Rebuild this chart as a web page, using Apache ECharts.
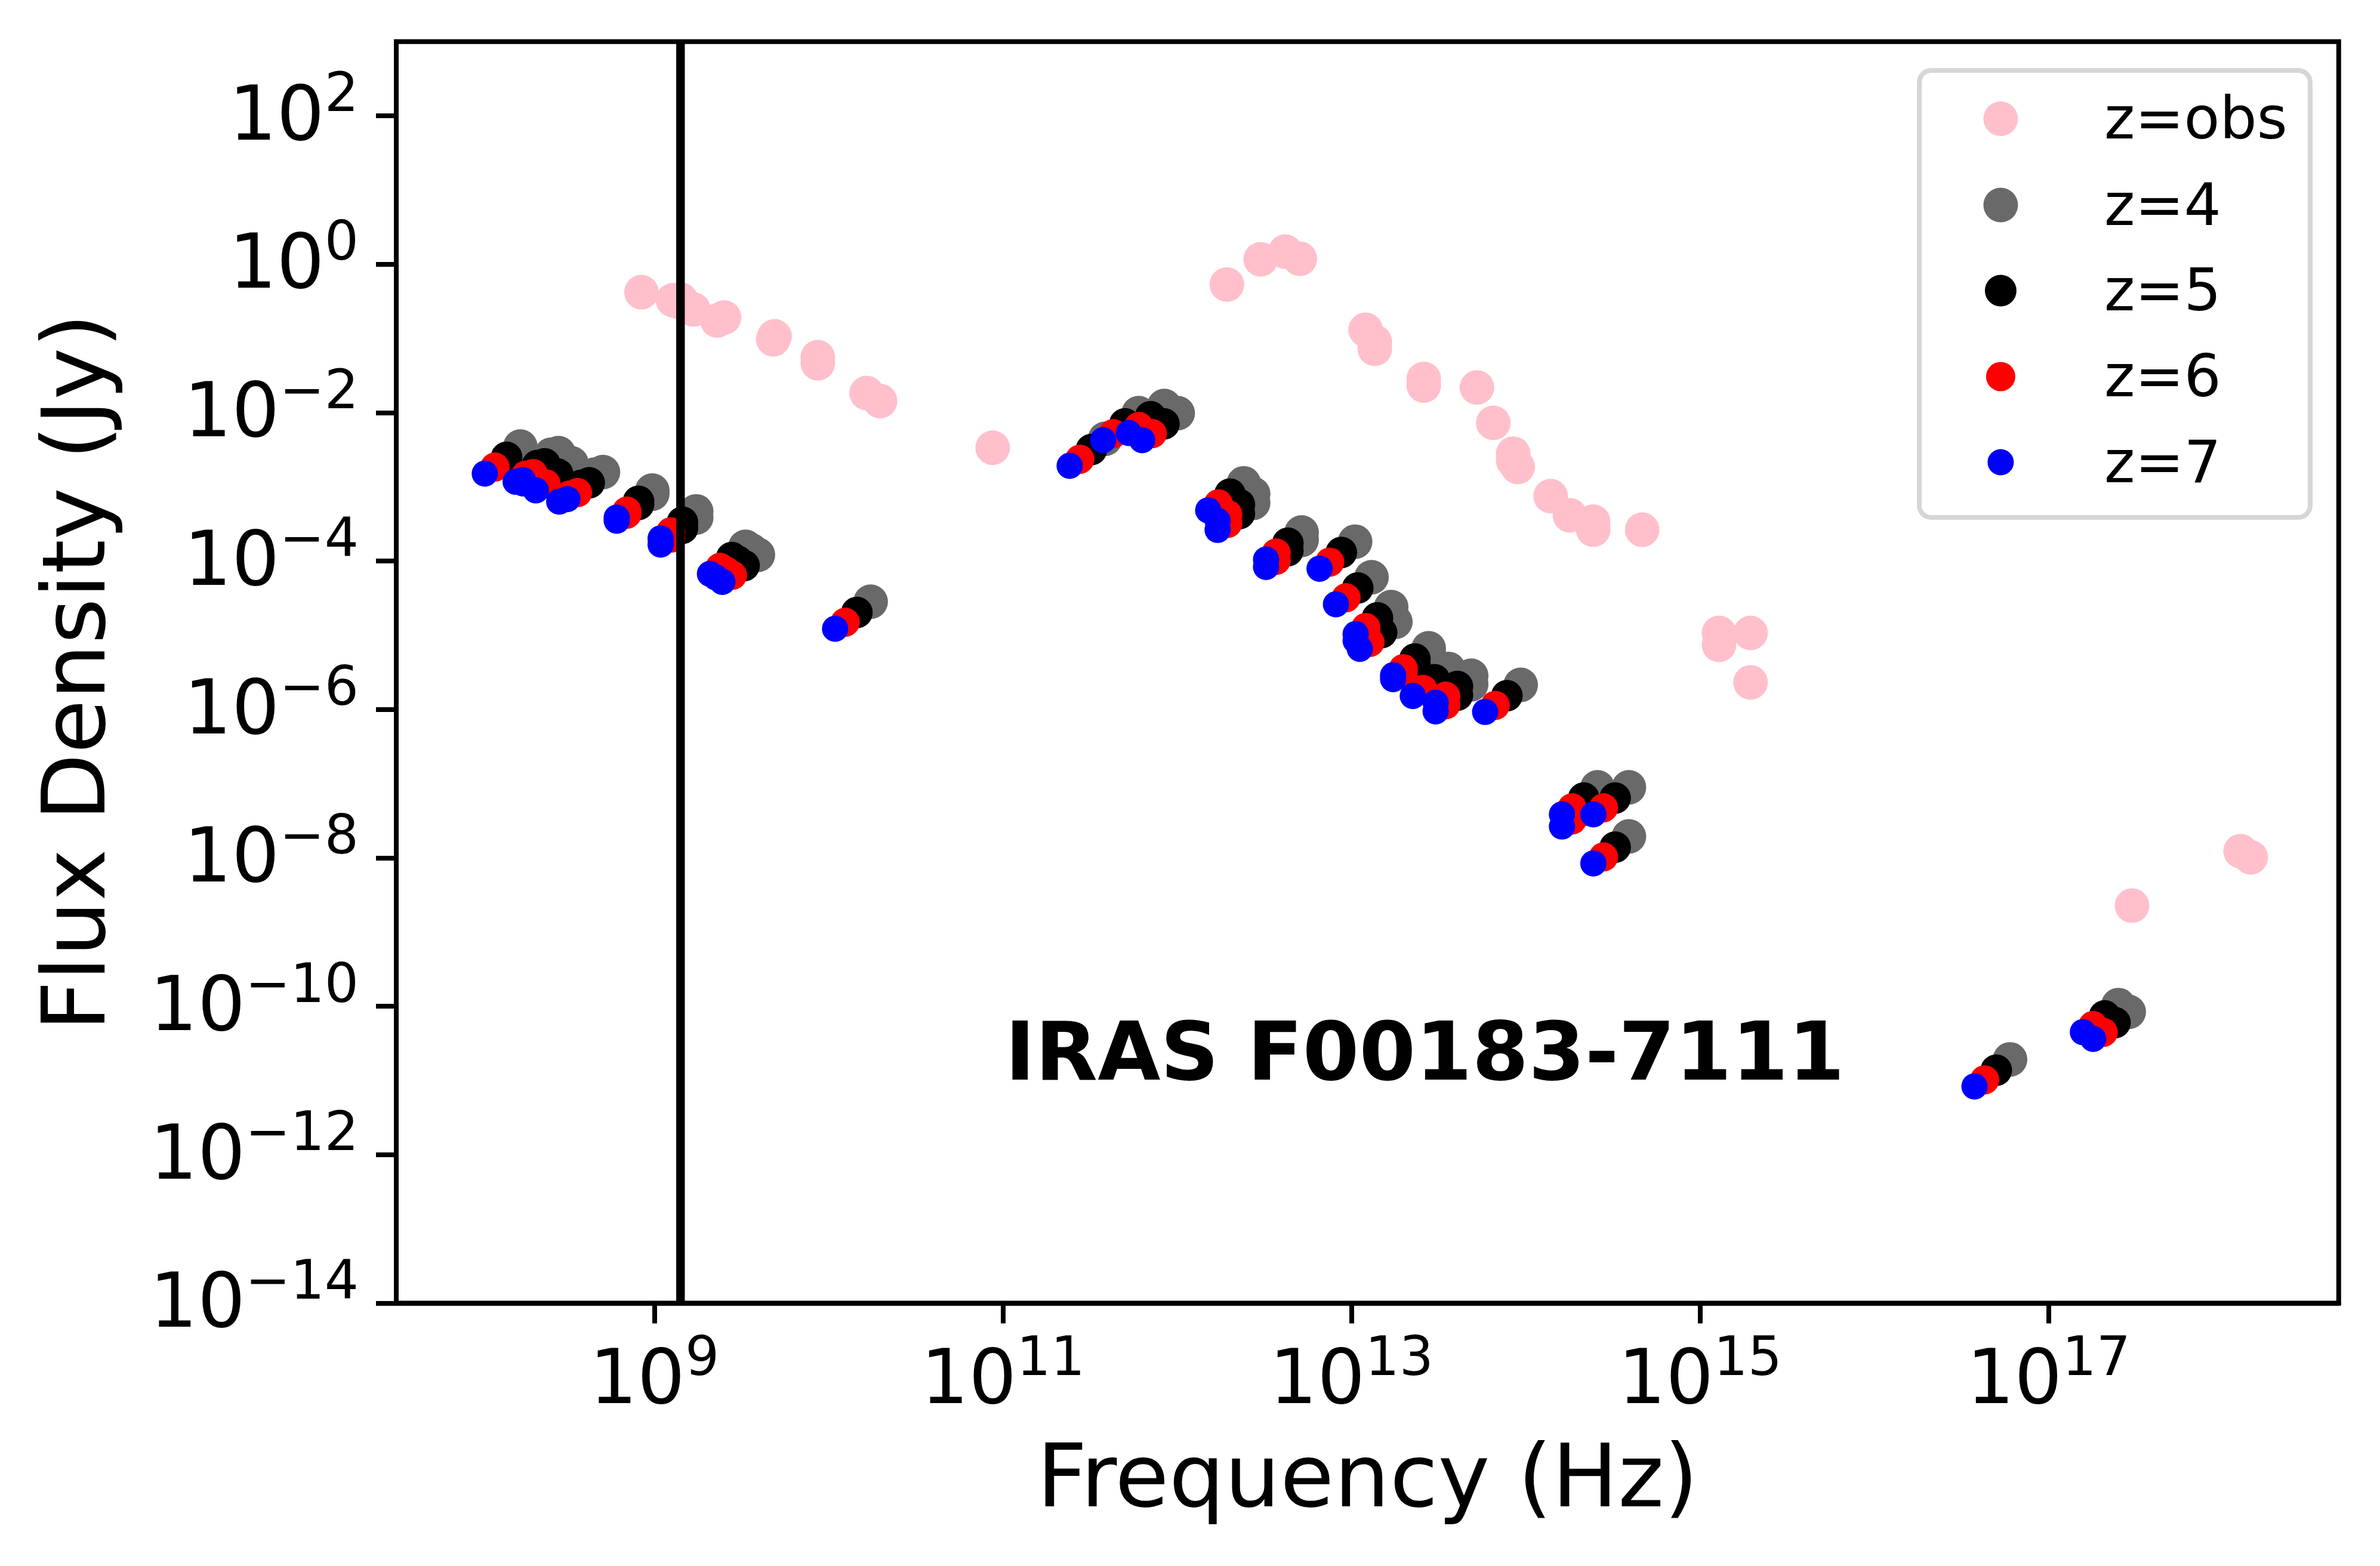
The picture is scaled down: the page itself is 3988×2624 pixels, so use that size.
<!DOCTYPE html>
<html>
<head>
<meta charset="utf-8">
<style>
html, body { margin: 0; padding: 0; background: #fff; }
#container { width: 3988px; height: 2624px; }
</style>
<script src="https://cdn.jsdelivr.net/npm/echarts@6/dist/echarts.min.js"></script>
</head>
<body>
<div id="container"></div>
<script>
// all values are log10(Hz) and log10(Jy)
var obsNu = [8.926,9.107,9.151,9.151,9.224,9.361,9.400,9.690,9.682,9.938,9.938,10.218,10.295,10.941,12.285,12.479,12.621,12.704,13.081,13.134,13.134,13.415,13.415,13.720,13.814,13.928,13.928,13.954,14.143,14.254,14.387,14.387,14.668,15.109,15.109,15.290,15.290,17.479,18.102,18.160];
var obsF = [-0.377,-0.485,-0.477,-0.517,-0.610,-0.758,-0.718,-0.971,-1.011,-1.253,-1.334,-1.735,-1.843,-2.473,-0.273,0.066,0.170,0.074,-0.883,-1.047,-1.140,-1.546,-1.634,-1.661,-2.138,-2.553,-2.647,-2.732,-3.125,-3.384,-3.468,-3.577,-3.578,-4.968,-5.129,-4.968,-5.635,-8.643,-7.909,-7.992];

var z4Nu = [8.231,8.408,8.450,8.450,8.524,8.658,8.705,8.988,8.988,9.240,9.240,9.523,9.556,9.594,10.241,11.587,11.779,11.926,12.003,12.382,12.436,12.436,12.714,12.714,13.021,13.115,13.228,13.228,13.252,13.443,13.443,13.556,13.687,13.687,13.971,14.412,14.412,14.592,14.592,16.779,17.401,17.460];
var z4F = [-2.457,-2.567,-2.545,-2.590,-2.683,-2.835,-2.801,-3.050,-3.092,-3.331,-3.414,-3.808,-3.856,-3.916,-4.548,-2.352,-2.007,-1.910,-2.007,-2.953,-3.095,-3.216,-3.615,-3.715,-3.739,-4.218,-4.620,-4.709,-4.819,-5.175,-5.227,-5.454,-5.545,-5.661,-5.669,-7.049,-7.213,-7.049,-7.711,-10.716,-9.984,-10.075];

var z5Nu = [8.152,8.329,8.371,8.371,8.445,8.579,8.626,8.909,8.909,9.161,9.161,9.444,9.477,9.515,10.162,11.508,11.700,11.847,11.924,12.303,12.357,12.357,12.635,12.635,12.942,13.036,13.149,13.149,13.173,13.364,13.364,13.477,13.608,13.608,13.892,14.333,14.333,14.513,14.513,16.700,17.322,17.381];
var z5F = [-2.602,-2.712,-2.690,-2.735,-2.828,-2.980,-2.946,-3.195,-3.237,-3.476,-3.559,-3.953,-4.001,-4.061,-4.693,-2.497,-2.152,-2.055,-2.152,-3.098,-3.240,-3.361,-3.760,-3.860,-3.884,-4.363,-4.765,-4.854,-4.964,-5.320,-5.372,-5.599,-5.690,-5.806,-5.814,-7.194,-7.358,-7.194,-7.856,-10.861,-10.129,-10.220];

var z6Nu = [8.085,8.262,8.304,8.304,8.378,8.512,8.559,8.842,8.842,9.094,9.094,9.377,9.410,9.448,10.095,11.441,11.633,11.780,11.857,12.236,12.290,12.290,12.568,12.568,12.875,12.969,13.082,13.082,13.106,13.297,13.297,13.410,13.541,13.541,13.825,14.266,14.266,14.446,14.446,16.633,17.255,17.314];
var z6F = [-2.733,-2.843,-2.821,-2.866,-2.959,-3.111,-3.077,-3.326,-3.368,-3.607,-3.690,-4.084,-4.132,-4.192,-4.824,-2.628,-2.283,-2.186,-2.283,-3.229,-3.371,-3.492,-3.891,-3.991,-4.015,-4.494,-4.896,-4.985,-5.095,-5.451,-5.503,-5.730,-5.821,-5.937,-5.945,-7.325,-7.489,-7.325,-7.987,-10.992,-10.260,-10.351];

var z7Nu = [8.027,8.204,8.246,8.246,8.320,8.454,8.501,8.784,8.784,9.036,9.036,9.319,9.352,9.390,10.037,11.383,11.575,11.722,11.799,12.178,12.232,12.232,12.510,12.510,12.817,12.911,13.024,13.024,13.048,13.239,13.239,13.352,13.483,13.483,13.767,14.208,14.208,14.388,14.388,16.575,17.197,17.256];
var z7F = [-2.821,-2.931,-2.909,-2.954,-3.047,-3.199,-3.165,-3.414,-3.456,-3.695,-3.778,-4.172,-4.220,-4.280,-4.912,-2.716,-2.371,-2.274,-2.371,-3.317,-3.459,-3.580,-3.979,-4.079,-4.103,-4.582,-4.984,-5.073,-5.183,-5.539,-5.591,-5.818,-5.909,-6.025,-6.033,-7.413,-7.577,-7.413,-8.075,-11.080,-10.348,-10.439];

var lineNu = 9.15;
var xTicks = [9, 11, 13, 15, 17];
var yTicks = [-14, -12, -10, -8, -6, -4, -2, 0, 2];
var xRange = [7.519, 18.665];
var yRange = [-14, 3];

var font = 'DejaVu Sans';

function pairs(xs, ys) {
    var out = [];
    for (var i = 0; i < xs.length; i++) {
        out.push([Math.pow(10, xs[i]), Math.pow(10, ys[i])]);
    }
    return out;
}

function powers(list) {
    return list.map(function (e) { return Math.pow(10, e); });
}

function tickLabel(val) {
    var e = Math.round(Math.log(val) / Math.LN10);
    return '{b|10}{s|' + String(e).replace('-', '\u2212') + '}';
}

var richLabel = {
    b: { fontFamily: font, fontSize: 126, color: '#000', lineHeight: 146, verticalAlign: 'bottom' },
    s: { fontFamily: font, fontSize: 90, color: '#000', lineHeight: 146, verticalAlign: 'top' }
};

function scatter(name, xs, ys, color, size) {
    return {
        name: name,
        type: 'scatter',
        data: pairs(xs, ys),
        symbol: 'circle',
        symbolSize: size,
        itemStyle: { color: color, opacity: 1 },
        silent: true
    };
}

// one legend per marker, the reference has a different dot size on each row
function legendRow(name, size, cy) {
    return {
        data: [{ name: name, icon: 'circle' }],
        left: 3352.4 - size / 2,
        top: cy - 56,
        padding: 0,
        itemWidth: size,
        itemHeight: size,
        selectedMode: false,
        formatter: '{t|{name}}',
        textStyle: {
            rich: {
                t: {
                    fontFamily: font,
                    fontSize: 98,
                    color: '#000',
                    lineHeight: 110,
                    padding: [16, 0, 0, 3526 - (3352.4 + size / 2) - 5]
                }
            }
        }
    };
}

var dom = document.getElementById('container');
var myChart = echarts.init(dom, null, { renderer: 'canvas', devicePixelRatio: 1 });

var option = {
    backgroundColor: '#fff',
    animation: false,
    title: {
        text: 'IRAS F00183-7111',
        left: 1684,
        top: 1706,
        padding: 0,
        textStyle: { fontFamily: font, fontSize: 136, fontWeight: 'bold', color: '#000' }
    },
    legend: [
        legendRow('z=obs', 58, 198),
        legendRow('z=4', 58, 342.5),
        legendRow('z=5', 53, 486),
        legendRow('z=6', 49, 630),
        legendRow('z=7', 44, 773.5)
    ],
    graphic: [{
        type: 'rect',
        shape: { x: 3216, y: 118, width: 655, height: 749, r: 20 },
        style: { fill: '#fff', stroke: '#d6d6d6', lineWidth: 8 },
        z: 1
    }],
    grid: {
        left: 664,
        top: 69.7,
        width: 3918.8 - 664,
        height: 2183.5 - 69.7,
        show: true,
        borderColor: '#000',
        borderWidth: 8,
        backgroundColor: 'transparent'
    },
    xAxis: {
        type: 'log',
        min: Math.pow(10, xRange[0]),
        max: Math.pow(10, xRange[1]),
        name: 'Frequency (Hz)',
        nameLocation: 'middle',
        nameGap: 229,
        nameTextStyle: { fontFamily: font, fontSize: 147, color: '#000' },
        axisLine: { onZero: false, lineStyle: { color: '#000', width: 8 } },
        axisTick: { length: 34, lineStyle: { color: '#000', width: 8 }, customValues: powers(xTicks) },
        minorTick: { show: false },
        splitLine: { show: false },
        axisLabel: { margin: 52, formatter: tickLabel, rich: richLabel, hideOverlap: false, customValues: powers(xTicks) }
    },
    yAxis: {
        type: 'log',
        min: Math.pow(10, yRange[0]),
        max: Math.pow(10, yRange[1]),
        name: 'Flux Density (Jy)',
        nameLocation: 'middle',
        nameGap: 454,
        nameTextStyle: { fontFamily: font, fontSize: 147, color: '#000' },
        axisLine: { onZero: false, lineStyle: { color: '#000', width: 8 } },
        axisTick: { length: 34, lineStyle: { color: '#000', width: 8 }, customValues: powers(yTicks) },
        minorTick: { show: false },
        splitLine: { show: false },
        axisLabel: { margin: 63, padding: [0, 0, 6, 0], formatter: tickLabel, rich: richLabel, hideOverlap: false, customValues: powers(yTicks) }
    },
    series: [
        {
            name: '1.4 GHz',
            type: 'line',
            data: [[Math.pow(10, lineNu), Math.pow(10, yRange[0])], [Math.pow(10, lineNu), Math.pow(10, yRange[1])]],
            symbol: 'none',
            lineStyle: { color: '#000', width: 14.4 },
            silent: true
        },
        scatter('z=obs', obsNu, obsF, '#ffc0cb', 58),
        scatter('z=4', z4Nu, z4F, '#696969', 58),
        scatter('z=5', z5Nu, z5F, '#000000', 53),
        scatter('z=6', z6Nu, z6F, '#ff0000', 49),
        scatter('z=7', z7Nu, z7F, '#0000ff', 44)
    ]
};

myChart.setOption(option);
</script>
</body>
</html>
